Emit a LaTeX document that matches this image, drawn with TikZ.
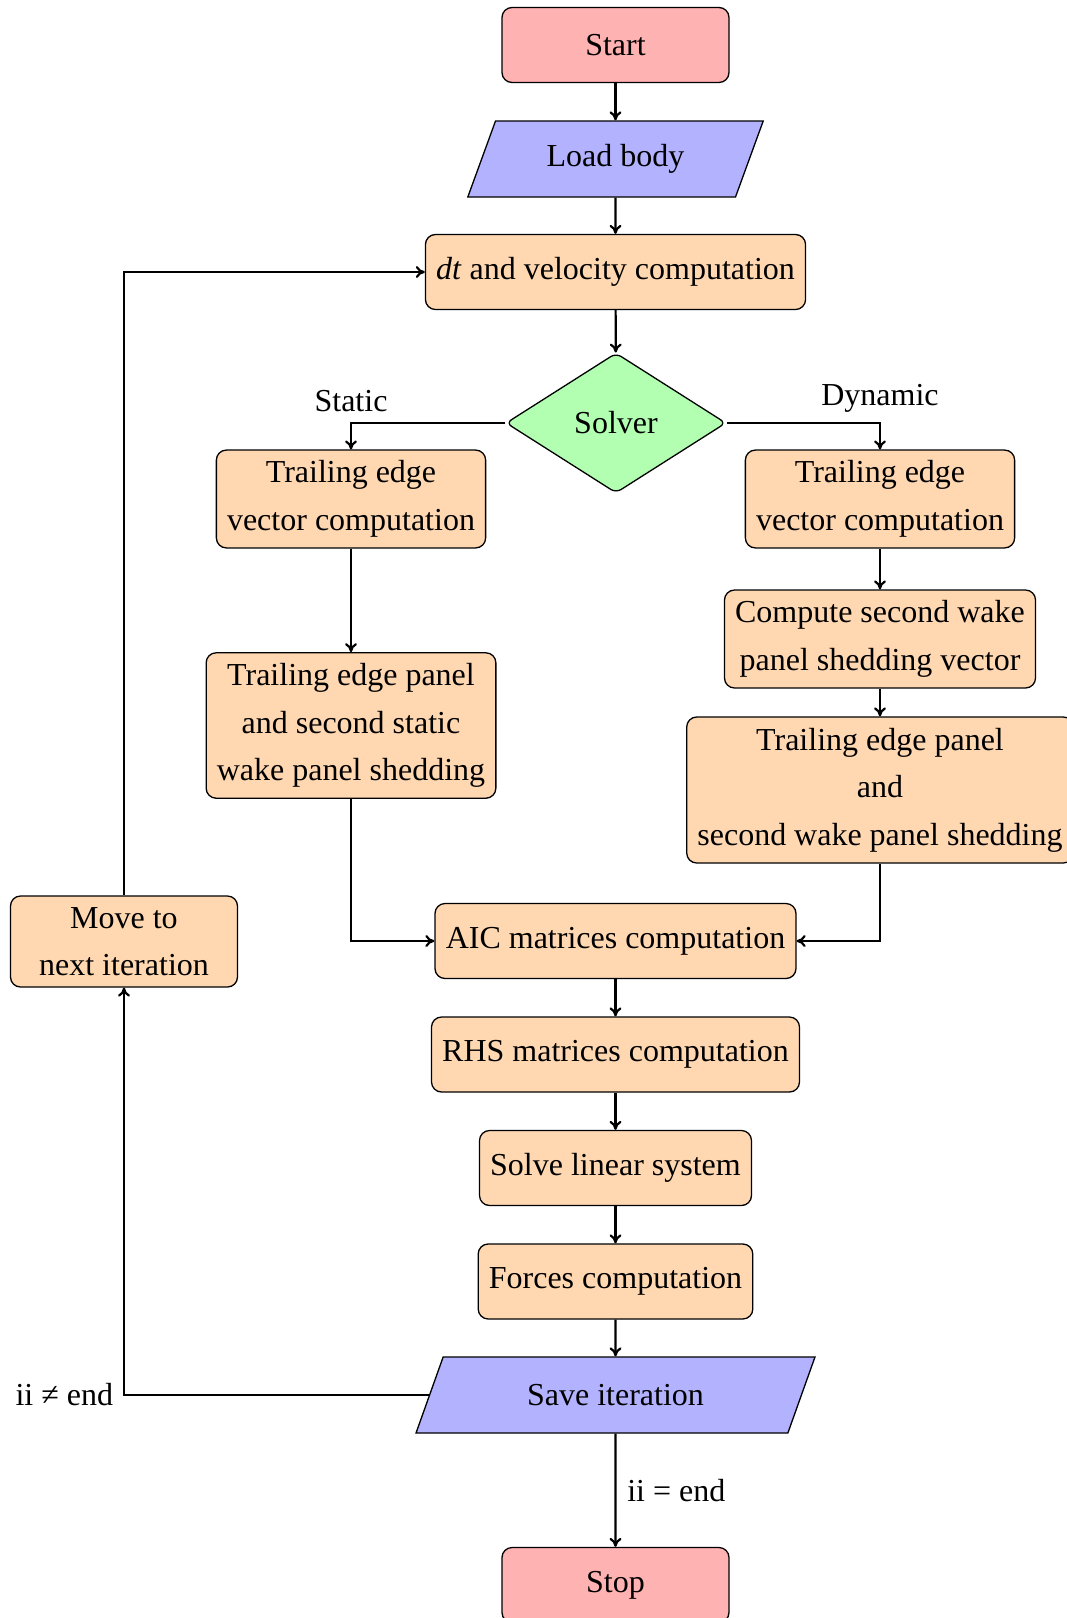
\documentclass[tikz,border=0pt]{standalone}
\usepackage{fontspec}
\setmainfont{Liberation Serif}
\usetikzlibrary{shapes.geometric,arrows.meta}
\definecolor{termc}{RGB}{255,178,178}
\definecolor{ioc}{RGB}{178,178,255}
\definecolor{procc}{RGB}{255,216,178}
\definecolor{decc}{RGB}{178,255,178}
\begin{document}
\begin{tikzpicture}[x=1pt,y=-1pt,
  every node/.style={font=\fontsize{32}{47.5}\selectfont, inner sep=10.67pt},
  base/.style={draw, line width=1.3pt, rounded corners=10pt, align=center},
  term/.style={base, rectangle, fill=termc, minimum width=227pt, minimum height=75pt},
  proc/.style={base, rectangle, fill=procc, minimum height=75pt},
  io/.style={draw, line width=1.3pt, trapezium, trapezium left angle=70, trapezium right angle=110, trapezium stretches=true, fill=ioc, minimum height=76pt},
  dec/.style={base, diamond, fill=decc, aspect=1.57, minimum width=220pt, minimum height=140pt, inner sep=2pt, rounded corners=6pt},
  arr/.style={-{To[length=9pt,width=12pt]}, line width=2.2pt}
]
\useasboundingbox (0,0) rectangle (1067,1618);
\fill[white] (0,0) rectangle (1067,1618);

\node[term] (start) at (615.5,45) {Start};
\node[io, minimum width=296pt] (load) at (615.5,159) {Load body};
\node[proc, minimum width=379pt] (dt) at (615.5,272) {\textit{dt} and velocity computation};
\node[dec] (solver) at (616,423) {Solver};
\node[proc, minimum width=268pt, minimum height=97pt] (lte) at (351,499) {Trailing edge\\vector computation};
\node[proc, minimum width=268pt, minimum height=97pt] (rte) at (880,499) {Trailing edge\\vector computation};
\node[proc, minimum width=309pt, minimum height=97pt] (csw) at (880,639) {Compute second wake\\panel shedding vector};
\node[proc, minimum width=383pt, minimum height=146pt] (rbig) at (880,790) {Trailing edge panel\\and\\second wake panel shedding};
\node[proc, minimum width=288pt, minimum height=145pt] (lbig) at (351,725.5) {Trailing edge panel\\and second static\\wake panel shedding};
\node[proc, minimum width=361pt] (aic) at (615.5,941) {AIC matrices computation};
\node[proc, minimum width=367pt] (rhs) at (615.5,1054.5) {RHS matrices computation};
\node[proc, minimum width=270pt] (solve) at (615.5,1168) {Solve linear system};
\node[proc, minimum width=273pt] (forces) at (615.5,1281.5) {Forces computation};
\node[io, minimum width=400pt] (save) at (615.5,1395) {Save iteration};
\node[term] (stop) at (615.5,1585) {Stop};
\node[proc, minimum width=227pt, minimum height=91pt] (move) at (124,941.5) {Move to\\next iteration};

\node[anchor=south] (static) at (solver.west -| lte.north) {Static};
\node[anchor=south] (dynamic) at (solver.east -| rte.north) {Dynamic};
\node[anchor=east] (neq) at (save.west -| move.south) {ii ≠ end};

\draw[arr] (start) -- (load);
\draw[arr] (load) -- (dt);
\draw[arr] (dt) -- (solver);
\draw[arr] (solver.west) -| (lte.north);
\draw[arr] (solver.east) -| (rte.north);
\draw[arr] (lte) -- (lbig);
\draw[arr] (rte) -- (csw);
\draw[arr] (csw) -- (rbig);
\draw[arr] (lbig.south) |- (aic.west);
\draw[arr] (rbig.south) |- (aic.east);
\draw[arr] (aic) -- (rhs);
\draw[arr] (rhs) -- (solve);
\draw[arr] (solve) -- (forces);
\draw[arr] (forces) -- (save);
\draw[arr] (save.south) -- node[anchor=west] (eq) {ii = end} (stop.north);
\draw[arr] (save.west) -| (move.south);
\draw[arr] (move.north) |- (dt.west);
\end{tikzpicture}
\end{document}
